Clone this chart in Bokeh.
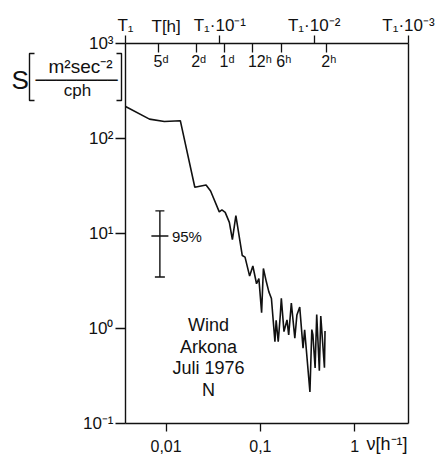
from bokeh.plotting import figure
from bokeh.models import (Range1d, LogAxis, FixedTicker, Label, Whisker, TeeHead,
                          ColumnDataSource)
from bokeh.core.properties import value
from bokeh.embed import file_html
from bokeh.resources import INLINE

# ---- data ----
freq = [0.00372, 0.00667, 0.00959, 0.01416, 0.02018, 0.02655, 0.02965, 0.03664,
        0.03908, 0.04236, 0.04688, 0.05047, 0.05495, 0.06427, 0.06871, 0.07691,
        0.08318, 0.09099, 0.09638, 0.1030, 0.1076, 0.1156, 0.1230, 0.1309,
        0.1426, 0.1469, 0.1545, 0.1626, 0.1667, 0.1778, 0.1914, 0.1995,
        0.2128, 0.2317, 0.2438, 0.2612, 0.2831, 0.2944, 0.3350, 0.3508,
        0.3600, 0.3802, 0.3954, 0.4217, 0.4365, 0.4775, 0.4842]
spec = [217, 160, 151, 154, 30.7, 32.4, 28.0, 16.9,
        17.7, 16.7, 13.1, 8.61, 15.4, 5.86, 5.64, 3.56,
        4.55, 2.96, 3.35, 1.47, 4.28, 3.10, 2.43, 2.07,
        0.726, 1.22, 0.726, 1.39, 2.08, 0.927, 1.23, 0.855,
        1.85, 0.793, 1.39, 1.68, 0.622, 0.97, 0.215, 0.973,
        0.863, 0.385, 1.40, 0.359, 1.35, 0.386, 0.94]

x_ticks = [0.01, 0.1, 1]
x_tick_labels = ["0,01", "0,1", "1"]
y_ticks = [0.1, 1, 10, 100, 1000]
y_tick_labels = ["10⁻¹", "10⁰", "10¹", "10²", "10³"]
T_labels = ["T₁", "T₁·10⁻¹", "T₁·10⁻²", "T₁·10⁻³"]
period_hours = [120, 48, 24, 12, 6, 2]
period_labels = ["5ᵈ", "2ᵈ", "1ᵈ", "12ʰ", "6ʰ", "2ʰ"]

ci_freq = 0.0086
ci_center = 9.4
ci_upper = 17.3
ci_lower = 3.48

# ---- layout (chart box in page pixels) ----
W, H = 441, 458
CL, CR, CT, CB = 125, 408, 43, 423
LX0 = -2.43                      # log10 of left edge frequency (T1)
x_start = 10 ** LX0
x_end = x_start * 1000
y_start, y_end = 0.1, 1000
T_ticks = [x_start * 10 ** k for k in range(4)]

FONT = "Liberation Sans"
MONO = "DejaVu Sans Mono"
INK = "#111111"


def X(px):  # page pixel -> data x (annotation placement only)
    return 10 ** (LX0 + (px - CL) * 3.0 / (CR - CL))


def Y(py):  # page pixel -> data y
    return 10 ** (3 - (py - CT) * 4.0 / (CB - CT))


p = figure(width=W, height=H, x_axis_type="log", y_axis_type="log",
           x_range=Range1d(X(0), X(W)), y_range=Range1d(Y(H), Y(0)),
           min_border=0, output_backend="svg", toolbar_location=None)
p.title.visible = False
p.background_fill_color = "white"
p.border_fill_color = "white"
p.outline_line_color = None
p.grid.visible = False


def style(ax, size):
    ax.major_label_text_font = FONT
    ax.major_label_text_font_size = size
    ax.major_label_text_color = INK
    ax.axis_line_color = INK
    ax.axis_line_width = 1.4
    ax.major_tick_line_color = INK
    ax.major_tick_line_width = 1.3
    ax.minor_tick_line_color = INK
    ax.minor_tick_line_width = 1.3


# bottom axis
xa = p.xaxis[0]
xa.ticker = FixedTicker(ticks=x_ticks, minor_ticks=[])
xa.major_label_overrides = dict(zip(x_ticks, x_tick_labels))
xa.fixed_location = y_start
xa.bounds = (x_start, x_end)
xa.major_tick_out = 8
xa.major_tick_in = 0
xa.major_label_standoff = 8
style(xa, "16px")

# left axis
ya = p.yaxis[0]
ya.ticker = FixedTicker(ticks=y_ticks, minor_ticks=[])
ya.major_label_overrides = dict(zip(y_ticks, y_tick_labels))
ya.fixed_location = x_start
ya.bounds = (y_start, y_end)
ya.major_tick_out = 10
ya.major_tick_in = 0
ya.major_label_standoff = 2
style(ya, "17px")

# top axis: periods
ta = LogAxis(ticker=FixedTicker(ticks=T_ticks,
                                minor_ticks=[1.0 / h for h in period_hours]),
             major_label_overrides=dict(zip(T_ticks, T_labels)),
             fixed_location=y_end, bounds=(x_start, x_end),
             major_tick_out=8, major_tick_in=0,
             minor_tick_in=9, minor_tick_out=0,
             major_label_standoff=1)
style(ta, "17px")
p.add_layout(ta, "above")

# right frame line
ra = LogAxis(ticker=FixedTicker(ticks=[], minor_ticks=[]),
             fixed_location=x_end, bounds=(y_start, y_end),
             major_label_text_font_size="0px")
style(ra, "1px")
p.add_layout(ra, "right")

# period tick labels inside the frame
p.text(x=[1.0 / h for h in period_hours], y=[y_end] * len(period_hours),
       text=period_labels, text_align="left", text_baseline="top",
       x_offset=-5, y_offset=9, text_font=value(FONT),
       text_font_size="16px", text_color=INK)

# spectrum
p.line(freq, spec, line_width=1.6, line_color=INK)

# 95% confidence bar
ci_src = ColumnDataSource(dict(base=[ci_freq], upper=[ci_upper], lower=[ci_lower]))
p.add_layout(Whisker(source=ci_src, base="base", upper="upper", lower="lower",
                     dimension="height", line_color=INK, line_width=1.4,
                     upper_head=TeeHead(size=9, line_color=INK, line_width=1.4),
                     lower_head=TeeHead(size=10, line_color=INK, line_width=1.4)))
p.scatter(x=[ci_freq], y=[ci_center], marker="dash", size=17,
          line_color=INK, line_width=1.4)
p.text(x=[ci_freq], y=[ci_center], text=["95%"], x_offset=12,
       text_align="left", text_baseline="middle", text_font=value(FONT),
       text_font_size="15px", text_color=INK)


def lab(px, py, text, size, align="left", font=FONT, lh=1.2):
    p.add_layout(Label(x=X(px), y=Y(py), text=text, text_align=align,
                       text_baseline="middle", text_font=font,
                       text_font_size=size, text_color=INK,
                       text_line_height=lh))


# station text
lab(208, 357, "Wind\nArkona\nJuli 1976\nN", "18px", align="center", lh=1.08)

# y-axis label S[m²sec⁻²/cph]  (brackets drawn as thin strokes)
bl, br, bt, bb, arm = 29, 121, 53, 100, 5
p.multi_line(xs=[[X(bl + arm), X(bl), X(bl), X(bl + arm)],
                 [X(br - arm), X(br), X(br), X(br - arm)]],
             ys=[[Y(bt), Y(bt), Y(bb), Y(bb)], [Y(bt), Y(bt), Y(bb), Y(bb)]],
             line_color=INK, line_width=1.4)
lab(11, 79, "S", "26px")
lab(80, 65.5, "m²sec⁻²", "19px", align="center")
lab(76, 79, "────────", "17px", align="center", font=MONO)
lab(77, 90, "cph", "17px", align="center")
# top / bottom axis names
lab(151, 26, "T[h]", "17px")
lab(366, 443, "ν[h⁻¹]", "18px")

open("out.html", "w").write(file_html(p, INLINE))
